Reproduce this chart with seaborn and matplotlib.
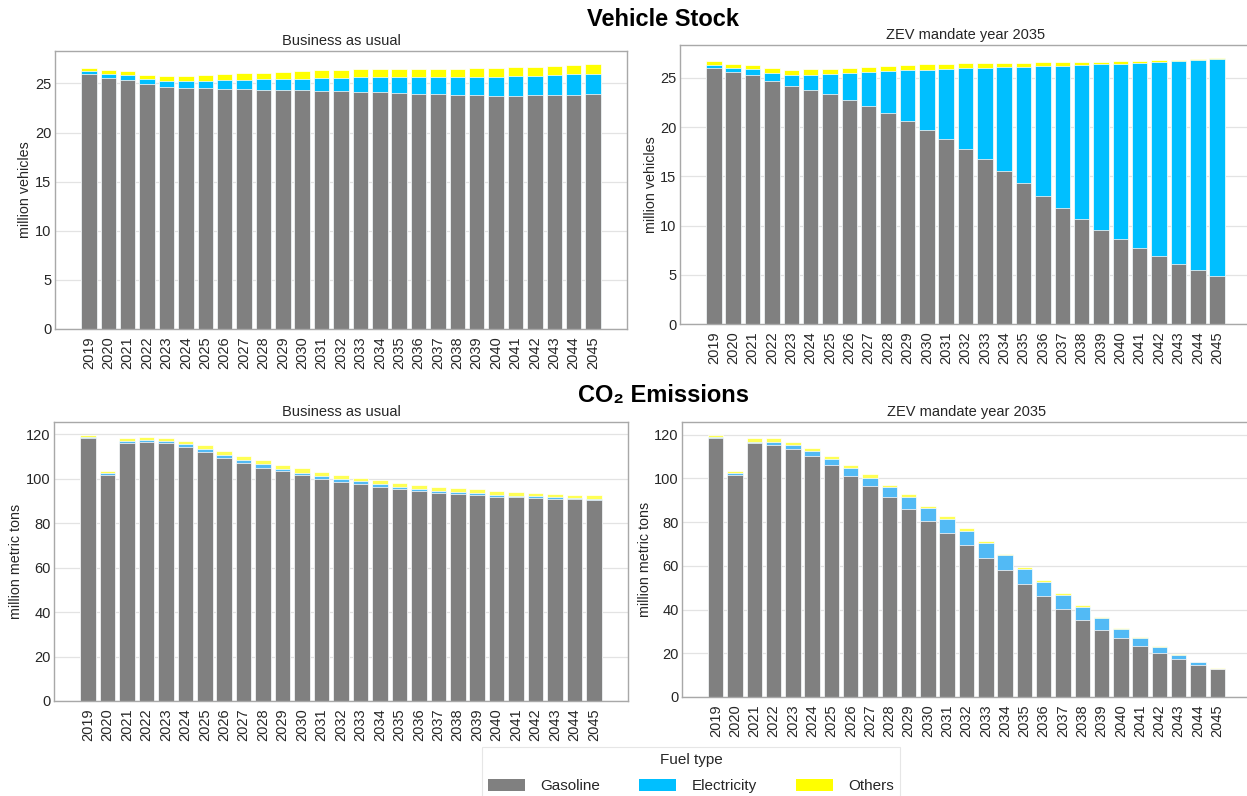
import numpy as np
import pandas as pd
import matplotlib
matplotlib.use("Agg")
import matplotlib.pyplot as plt
import seaborn as sns
from matplotlib.patches import Patch

# ---------------- data ----------------
years = [str(y) for y in range(2019, 2046)]

# Vehicle stock (million vehicles) - Business as usual
stock_bau_gasoline = [25.95, 25.57, 25.37, 24.93, 24.63, 24.56, 24.50, 24.43, 24.40, 24.36, 24.36, 24.32, 24.22, 24.19,
                      24.16, 24.09, 23.99, 23.95, 23.89, 23.82, 23.78, 23.75, 23.75, 23.78, 23.78, 23.82, 23.89]
stock_bau_electricity = [0.30, 0.38, 0.48, 0.48, 0.61, 0.68, 0.77, 0.91, 0.97, 1.08, 1.11, 1.18, 1.35, 1.41,
                         1.48, 1.55, 1.65, 1.69, 1.75, 1.82, 1.86, 1.93, 1.99, 2.03, 2.08, 2.10, 2.12]
stock_bau_others = [0.35, 0.40, 0.40, 0.49, 0.50, 0.54, 0.57, 0.64, 0.71, 0.64, 0.73, 0.80, 0.78, 0.82,
                    0.81, 0.81, 0.81, 0.88, 0.88, 0.88, 0.95, 0.94, 0.92, 0.88, 0.88, 0.95, 0.95]

# Vehicle stock (million vehicles) - ZEV mandate year 2035
stock_zev_gasoline = [25.98, 25.64, 25.34, 24.69, 24.19, 23.81, 23.34, 22.76, 22.18, 21.46, 20.64, 19.76, 18.81, 17.83,
                      16.74, 15.51, 14.33, 13.04, 11.78, 10.66, 9.58, 8.60, 7.72, 6.87, 6.09, 5.48, 4.87]
stock_zev_electricity = [0.31, 0.34, 0.54, 0.82, 1.08, 1.53, 2.10, 2.75, 3.40, 4.25, 5.14, 6.09, 7.14, 8.15,
                         9.28, 10.61, 11.82, 13.18, 14.48, 15.66, 16.81, 17.82, 18.84, 19.72, 20.61, 21.32, 22.03]
stock_zev_others = [0.41, 0.45, 0.44, 0.47, 0.51, 0.54, 0.48, 0.51, 0.54, 0.48, 0.51, 0.54, 0.48, 0.55,
                    0.54, 0.44, 0.41, 0.37, 0.33, 0.27, 0.27, 0.28, 0.20, 0.21, 0.17, 0.17, 0.10]

# CO2 emissions (million metric tons) - Business as usual
co2_bau_gasoline = [118.3, 101.8, 116.3, 116.7, 116.0, 114.3, 112.2, 109.6, 107.2, 105.1, 103.3, 101.5, 99.8, 98.6,
                    97.5, 96.4, 95.3, 94.5, 93.6, 93.1, 92.6, 92.0, 91.7, 91.4, 91.1, 90.8, 90.5]
co2_bau_electricity = [0.4, 0.6, 0.8, 0.9, 1.1, 1.2, 1.2, 1.1, 1.3, 1.4, 1.3, 1.3, 1.4, 1.3,
                       1.3, 1.1, 1.0, 0.9, 0.9, 0.8, 0.8, 0.8, 0.7, 0.7, 0.6, 0.6, 0.6]
co2_bau_others = [0.9, 1.0, 1.2, 1.2, 1.3, 1.6, 1.8, 1.8, 1.8, 1.8, 1.8, 1.9, 1.9, 1.8,
                  1.7, 1.8, 1.8, 1.7, 1.9, 1.8, 1.8, 1.6, 1.6, 1.5, 1.5, 1.5, 1.4]

# CO2 emissions (million metric tons) - ZEV mandate year 2035
co2_zev_gasoline = [118.5, 101.7, 116.0, 115.3, 113.5, 110.3, 106.1, 101.2, 96.3, 91.3, 86.0, 80.3, 74.8, 69.4,
                    63.6, 57.9, 51.8, 46.1, 40.4, 35.4, 30.8, 26.9, 23.1, 20.0, 17.4, 14.8, 12.7]
co2_zev_electricity = [0.4, 0.6, 0.8, 1.2, 1.9, 2.2, 2.6, 3.5, 4.0, 4.6, 5.3, 6.1, 6.6, 6.6,
                       6.8, 7.0, 6.8, 6.4, 6.4, 5.8, 5.2, 4.2, 3.8, 2.9, 1.8, 1.1, 0.3]
co2_zev_others = [0.9, 1.3, 1.5, 1.8, 1.4, 1.4, 1.7, 1.5, 1.6, 1.3, 1.4, 1.1, 1.2, 1.2,
                  1.0, 0.7, 0.9, 0.8, 0.7, 0.7, 0.6, 0.5, 0.5, 0.4, 0.3, 0.3, 0.3]

fuel_types = ["Gasoline", "Electricity", "Others"]
subplot_titles = ["Business as usual", "ZEV mandate year 2035"]

# ---------------- style ----------------
sns.set_theme(style="white")
plt.rcParams["font.family"] = ["Liberation Sans", "DejaVu Sans"]
TXT = "#262626"

GRAY = "#808080"
BLUE_TOP = "#00BFFF"
YEL_TOP = "#FFFF00"
BLUE_BOT = "#52BAF5"
YEL_BOT = "#FFFF55"

W, H = 1247, 796
fig = plt.figure(figsize=(W / 100, H / 100), dpi=100)


def px_axes(l, t, r, b):
    return fig.add_axes([l / W, 1 - b / H, (r - l) / W, (b - t) / H])


ax_tl = px_axes(55, 51, 627, 329)
ax_tr = px_axes(680, 45, 1251, 324)
ax_bl = px_axes(54, 422, 628, 701)
ax_br = px_axes(682, 422, 1251, 697)


def stacked(ax, gas, elec, oth, cblue, cyel, title, ylabel, yticks, label_x):
    gas = np.array(gas)
    elec = np.array(elec)
    oth = np.array(oth)
    df = pd.DataFrame({"year": years,
                       "total": gas + elec + oth,
                       "gas_elec": gas + elec,
                       "gas": gas})
    for col, c in [("total", cyel), ("gas_elec", cblue), ("gas", GRAY)]:
        sns.barplot(data=df, x="year", y=col, color=c, saturation=1, width=0.8,
                    edgecolor="white", linewidth=0.5, ax=ax, zorder=2)
    ax.set_xlim(-1.75, len(years) - 1 + 1.75)
    ax.set_ylim(0, df["total"].max() * 1.05)
    ax.set_yticks(yticks)
    ax.set_xlabel("")
    ax.set_ylabel(ylabel, fontsize=10.3, color=TXT)
    ax.yaxis.set_label_coords(label_x, 0.5)
    ax.set_title(title, fontsize=10.5, color=TXT, pad=4)
    ax.grid(axis="y", color="#e3e3e3", linewidth=0.9, zorder=0)
    ax.set_axisbelow(True)
    for s in ax.spines.values():
        s.set_visible(True)
        s.set_color("#a8a8a8")
        s.set_linewidth(1.0)
    ax.tick_params(axis="x", labelrotation=90, labelsize=10.5, length=0, pad=5, colors=TXT)
    ax.tick_params(axis="y", labelsize=10.5, length=0, pad=2.5, colors=TXT)


stacked(ax_tl, stock_bau_gasoline, stock_bau_electricity, stock_bau_others, BLUE_TOP, YEL_TOP,
        subplot_titles[0], "million vehicles", [0, 5, 10, 15, 20, 25], -0.040)
stacked(ax_tr, stock_zev_gasoline, stock_zev_electricity, stock_zev_others, BLUE_TOP, YEL_TOP,
        subplot_titles[1], "million vehicles", [0, 5, 10, 15, 20, 25], -0.039)
stacked(ax_bl, co2_bau_gasoline, co2_bau_electricity, co2_bau_others, BLUE_BOT, YEL_BOT,
        subplot_titles[0], "million metric tons", [0, 20, 40, 60, 80, 100, 120], -0.054)
stacked(ax_br, co2_zev_gasoline, co2_zev_electricity, co2_zev_others, BLUE_BOT, YEL_BOT,
        subplot_titles[1], "million metric tons", [0, 20, 40, 60, 80, 100, 120], -0.052)

fig.text(663 / W, 1 - 19 / H, "Vehicle Stock", ha="center", va="center",
         fontsize=17, fontweight="bold", color="black")
fig.text(664 / W, 1 - 395 / H, "CO₂ Emissions", ha="center", va="center",
         fontsize=17, fontweight="bold", color="black")

handles = [Patch(facecolor=c, edgecolor="none", label=l)
           for c, l in zip([GRAY, BLUE_TOP, YEL_TOP], fuel_types)]
leg = fig.legend(handles=handles, title="Fuel type", loc="upper center",
                 bbox_to_anchor=(691 / W, 1 - 739 / H), ncol=3, frameon=True,
                 fontsize=11, title_fontsize=11, handlelength=2.4, handleheight=0.8,
                 handletextpad=1.0, columnspacing=2.6, borderpad=0.4, labelspacing=0.8,
                 fancybox=False)
leg.get_frame().set_edgecolor("#e0e0e0")
leg.get_frame().set_linewidth(0.8)
for t in leg.get_texts():
    t.set_color(TXT)
leg.get_title().set_color(TXT)

fig.savefig("out.png", dpi=100)
